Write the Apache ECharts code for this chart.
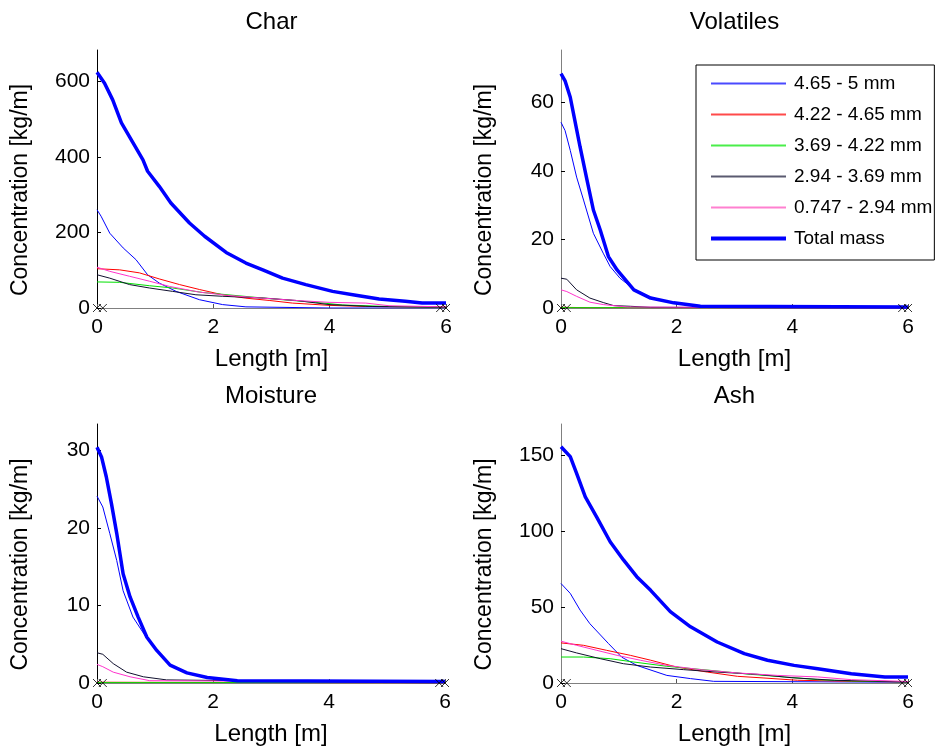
<!DOCTYPE html>
<html><head><meta charset="utf-8">
<script src="https://cdn.jsdelivr.net/npm/echarts@6/dist/echarts.min.js"></script>
<style>html,body{margin:0;padding:0;background:#fff}#c{width:946px;height:751px}</style>
</head><body><div id="c"></div>
<script>
const seriesNames = ['4.65 - 5 mm','4.22 - 4.65 mm','3.69 - 4.22 mm','2.94 - 3.69 mm','0.747 - 2.94 mm','Total mass'];
const panelTitles = ['Char','Volatiles','Moisture','Ash'];
const yTickLabels = [[0,200,400,600],[0,20,40,60],[0,10,20,30],[0,50,100,150]];
const yMaxes = [683, 75.3, 33.4, 170.5];
const xTickLabels = [0,2,4,6];
const endMarkersX = [0, 0.1, 5.9, 6];

// Char
const charBlue  = [[0,260],[0.07,243],[0.22,198],[0.45,159],[0.67,128],[0.87,88],[1.07,66],[1.36,44],[1.76,22],[2.16,9],[2.56,3],[4,0],[6,0]];
const charRed   = [[0,104],[0.39,101],[0.73,93],[1.07,77],[1.42,62],[1.76,49],[2.16,35],[2.56,26],[2.96,20],[3.36,13],[3.99,7],[4.62,4],[5.6,3],[6,2]];
const charGreen = [[0,69],[0.39,68],[0.9,59],[1.3,53],[1.82,41],[2.39,33],[3.02,24],[3.76,15],[4.22,8],[5.02,4],[6,2]];
const charBlack = [[0,88],[0.22,79],[0.56,62],[0.9,53],[1.3,44],[1.7,35],[2.16,31],[2.9,26],[3.42,20],[3.99,9],[4.73,4],[6,2]];
const charPink  = [[0,108],[0.22,97],[0.56,84],[0.9,71],[1.25,57],[1.76,42],[2.27,33],[2.85,26],[3.42,20],[3.99,15],[4.62,13],[5.02,6],[6,3]];
const charTotal = [[0,624],[0.13,595],[0.27,551],[0.42,490],[0.62,437],[0.79,392],[0.87,362],[1.07,322],[1.27,278],[1.59,225],[1.85,190],[2.22,147],[2.56,119],[2.85,101],[3.19,79],[3.59,62],[4.05,44],[4.45,34],[4.85,24],[5.3,18],[5.59,13],[6,13]];

// Volatiles
const volBlue  = [[0,54.2],[0.07,51.8],[0.16,46],[0.27,38.2],[0.39,31.5],[0.56,21.8],[0.73,16],[0.85,12.1],[1.02,8.7],[1.26,5.5],[1.55,3.1],[1.95,1.5],[2.41,0.5],[6,0.3]];
const volRed   = [[0,0.2],[0.5,0.1],[6,0]];
const volGreen = [[0,0.1],[6,0.1]];
const volBlack = [[0,8.7],[0.1,8.4],[0.27,5.3],[0.5,2.9],[0.73,1.6],[0.91,0.7],[1.2,0.5],[1.55,0.2],[6,0]];
const volPink  = [[0,5.3],[0.1,4.8],[0.27,3.4],[0.5,1.7],[0.73,1],[1.14,0.3],[6,0]];
const volTotal = [[0,68.4],[0.07,66.3],[0.16,61.5],[0.24,54.7],[0.33,47],[0.45,37.3],[0.56,28.6],[0.68,22.7],[0.82,15],[0.97,11.1],[1.26,5.3],[1.55,2.9],[1.95,1.5],[2.41,0.5],[6,0.3]];

// Moisture
const moiBlue  = [[0,24.1],[0.1,22.7],[0.22,19.3],[0.34,15.8],[0.45,11.9],[0.62,8.5],[0.83,6.1],[1.03,4.2],[1.26,2.3],[1.55,1.3],[1.9,0.7],[2.42,0.3],[6,0.2]];
const moiRed   = [[0,0.1],[6,0]];
const moiGreen = [[0,0.05],[6,0.05]];
const moiBlack = [[0,3.9],[0.1,3.7],[0.28,2.5],[0.51,1.4],[0.8,0.8],[1.2,0.4],[6,0]];
const moiPink  = [[0,2.4],[0.1,2.1],[0.28,1.4],[0.57,0.8],[0.91,0.3],[6,0.1]];
const moiTotal = [[0,30.4],[0.08,29.1],[0.16,26.6],[0.25,23.1],[0.34,19.3],[0.45,14.1],[0.57,11.1],[0.71,8.5],[0.86,5.9],[1.03,4.2],[1.26,2.3],[1.55,1.3],[1.9,0.7],[2.42,0.3],[6,0.2]];

// Ash
const ashBlue  = [[0,65.5],[0.16,59],[0.33,48],[0.5,39],[0.82,26],[1.05,17],[1.31,11.6],[1.83,5],[2.24,2.9],[2.64,1.1],[6,0.5]];
const ashRed   = [[0,26.4],[0.39,24.8],[0.79,21.5],[1.2,18.2],[1.55,15],[2.0,10.5],[2.53,7.2],[3.05,4.4],[3.51,3.3],[4.09,1.8],[5.02,1.1],[6,0.7]];
const ashGreen = [[0,17.1],[0.39,17.1],[0.85,16],[1.26,13.8],[1.83,11],[2.59,8.3],[3.28,5.7],[3.86,4],[4.44,2.2],[5.02,1.3],[6,0.7]];
const ashBlack = [[0,22.6],[0.27,19.8],[0.68,16],[1.08,12.7],[1.55,10.5],[2.12,8.8],[2.7,7.2],[3.4,5.7],[3.98,3.5],[4.73,1.8],[6,0.7]];
const ashPink  = [[0,27.5],[0.27,24.8],[0.62,21.5],[0.97,18.2],[1.37,15],[1.83,11.6],[2.41,8.8],[3.05,6.6],[3.74,5],[4.44,4],[5.02,2.2],[6,1]];
const ashTotal = [[0,155.5],[0.16,149],[0.27,138],[0.42,122.5],[0.62,109],[0.85,93],[1.08,81],[1.31,70],[1.55,61],[1.89,47],[2.24,37],[2.7,27],[3.17,19.3],[3.57,15],[4.03,11.6],[4.44,9.4],[5.02,6.1],[5.6,4],[6,4]];

const panelData = [
  [charBlue, charRed, charGreen, charBlack, charPink, charTotal],
  [volBlue, volRed, volGreen, volBlack, volPink, volTotal],
  [moiBlue, moiRed, moiGreen, moiBlack, moiPink, moiTotal],
  [ashBlue, ashRed, ashGreen, ashBlack, ashPink, ashTotal]
];

const lineColors = ['#0000ff','#ff0000','#00e000','#10102e','#ff33cc','#0000ff'];
const legendColors = ['#4a4aff','#ff4a4a','#4aee4a','#5a5a70','#ff80d0','#0000ff'];
const lineWidths = [1,1,1,1,1,3.5];
const legendIconHeights = [2,2,2,2,2,4];
const FONT = 'Liberation Sans, Arial, sans-serif';
const FS = 21;
const NAME_FS = 23;
const TITLE_FS = 24;

const grids = [
  {left:97, top:50, width:349, height:258},
  {left:561, top:50, width:347, height:258},
  {left:97, top:424, width:348, height:259},
  {left:561, top:424, width:347, height:259}
];
const yAxisColors = ['#000','#808080','#000','#808080'];

const option = {
  animation:false,
  backgroundColor:'#fff',
  title: panelTitles.map((t,i)=>({
    text:t, left: grids[i].left + grids[i].width/2, top: grids[i].top - 40, textAlign:'center', padding:0,
    textStyle:{fontFamily:FONT, fontSize:TITLE_FS, fontWeight:'normal', color:'#000'}
  })),
  grid: grids,
  legend: {
    data: seriesNames.map((n,k)=>({
      name:n,
      icon:'path://M0,0H75V' + legendIconHeights[k] + 'H0Z',
      itemStyle:{color:legendColors[k], borderWidth:0, opacity:1}
    })),
    symbolKeepAspect:true,
    orient:'vertical', left:696, top:65,
    itemWidth:75, itemHeight:21, itemGap:10,
    padding:[8,2,11,15],
    backgroundColor:'#fff', borderColor:'#000', borderWidth:1, borderRadius:0,
    textStyle:{fontFamily:FONT, fontSize:19, lineHeight:21, color:'#000', padding:[0,0,0,3]}
  },
  xAxis: grids.map((g,i)=>({
    gridIndex:i, type:'value', min:0, max:6, interval:2,
    name:'Length [m]', nameLocation:'middle', nameGap:39,
    nameTextStyle:{fontFamily:FONT, fontSize:24, color:'#000'},
    axisLine:{show:true, lineStyle:{color:'#808080', width:1}},
    axisTick:{show:true, inside:true, length:4, lineStyle:{color:'#555'}},
    axisLabel:{fontFamily:FONT, fontSize:FS, color:'#000', margin:9},
    splitLine:{show:false}
  })),
  yAxis: grids.map((g,i)=>({
    gridIndex:i, type:'value', min:0, max:yMaxes[i],
    name:'Concentration [kg/m]', nameLocation:'middle', nameRotate:90, nameGap:65,
    nameTextStyle:{fontFamily:FONT, fontSize:NAME_FS, color:'#000', padding:[0,22,0,0]},
    axisLine:{show:true, lineStyle:{color:yAxisColors[i], width:1}},
    axisTick:{show:true, inside:true, length:4, customValues:yTickLabels[i], lineStyle:{color:'#000'}},
    axisLabel:{fontFamily:FONT, fontSize:FS, color:'#000', margin:7, customValues:yTickLabels[i]},
    splitLine:{show:false}
  })),
  series: []
};

panelData.forEach((arrs, p)=>{
  arrs.forEach((d, k)=>{
    option.series.push({
      type:'line', name:seriesNames[k], xAxisIndex:p, yAxisIndex:p, data:d,
      showSymbol:false, symbol:'none', smooth:false, z: k===5 ? 5 : 3,
      lineStyle:{color:lineColors[k], width:lineWidths[k]},
      itemStyle:{color:lineColors[k]}
    });
  });
  option.series.push({
    type:'scatter', name:'ends', xAxisIndex:p, yAxisIndex:p, z:6,
    data: endMarkersX.map(x=>[x,0]),
    symbol:'path://M0,0L10,10M10,0L0,10', symbolSize:8,
    itemStyle:{color:'none', borderColor:'#000', borderWidth:1}, silent:true
  });
});

const chart = echarts.init(document.getElementById('c'), null, {renderer:'canvas'});
chart.setOption(option);
</script></body></html>
